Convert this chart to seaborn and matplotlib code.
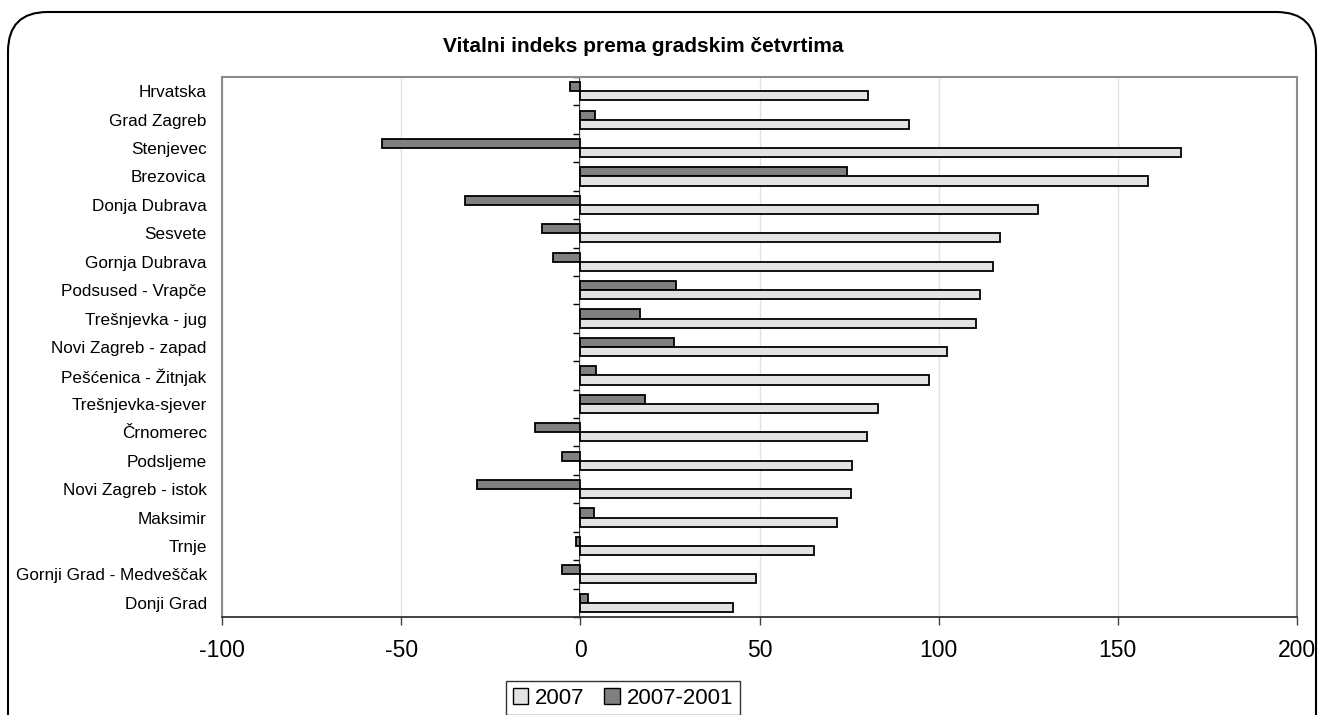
import matplotlib
matplotlib.use("Agg")
import matplotlib.pyplot as plt
from matplotlib.patches import FancyBboxPatch, Patch
import seaborn as sns
import pandas as pd

categories = ["Hrvatska", "Grad Zagreb", "Stenjevec", "Brezovica", "Donja Dubrava",
              "Sesvete", "Gornja Dubrava", "Podsused - Vrapče", "Trešnjevka - jug",
              "Novi Zagreb - zapad", "Pešćenica - Žitnjak", "Trešnjevka-sjever",
              "Črnomerec", "Podsljeme", "Novi Zagreb - istok", "Maksimir", "Trnje",
              "Gornji Grad - Medveščak", "Donji Grad"]
values_2007 = [80.2, 91.6, 167.6, 158.3, 127.8, 117.2, 115.3, 111.6, 110.5, 102.4,
               97.4, 83.2, 80.1, 75.9, 75.4, 71.7, 65.3, 49.1, 42.7]
values_diff = [-2.8, 4.2, -55.3, 74.3, -32.1, -10.6, -7.5, 26.8, 16.7, 26.2,
               4.5, 18.1, -12.6, -5.2, -28.9, 3.7, -1.2, -5.2, 2.2]
series_names = ["2007", "2007-2001"]
x_ticks = [-100, -50, 0, 50, 100, 150, 200]

df = pd.DataFrame({
    "category": categories * 2,
    "value": values_diff + values_2007,
    "series": [series_names[1]] * len(categories) + [series_names[0]] * len(categories),
})

sns.set_theme(style="white")
plt.rcParams["font.family"] = ["Liberation Sans", "DejaVu Sans"]
plt.rcParams["text.color"] = "black"
plt.rcParams["xtick.color"] = "black"
plt.rcParams["ytick.color"] = "black"
plt.rcParams["axes.labelcolor"] = "black"

colors = {"2007": "#E3E3E3", "2007-2001": "#808080"}

fig = plt.figure(figsize=(13.22, 7.15), dpi=100)
ax = fig.add_axes([222 / 1322, 1 - 617 / 715, (1297 - 222) / 1322, (617 - 77) / 715])

sns.barplot(data=df, x="value", y="category", hue="series",
            hue_order=["2007-2001", "2007"], palette=colors, orient="h",
            width=0.64, edgecolor="black", linewidth=1.3, ax=ax, legend=False,
            saturation=1)

ax.set_xlim(-100, 200)
ax.set_ylim(len(categories) - 0.5, -0.5)
ax.set_xticks(x_ticks)
ax.set_xticklabels([str(t) for t in x_ticks], fontsize=16.5)
ax.set_xlabel("")
ax.set_ylabel("")
ax.tick_params(axis="y", length=0, pad=11, labelsize=12.3, labelcolor="black")
ax.tick_params(axis="x", direction="out", length=6, width=1, color="#404040",
               pad=10, bottom=True, labelcolor="black")
ax.xaxis.grid(True, color="#E3E3E3", linewidth=1)
ax.set_axisbelow(True)
for side in ["top", "left", "right"]:
    ax.spines[side].set_color("#8C8C8C")
    ax.spines[side].set_linewidth(1.5)
ax.spines["bottom"].set_color("#333333")
ax.spines["bottom"].set_linewidth(1.3)

# category axis at x = 0
sec = ax.secondary_yaxis((0 - (-100)) / 300)
sec.set_yticks([i - 0.5 for i in range(len(categories) + 1)])
sec.set_yticklabels([])
sec.tick_params(axis="y", direction="out", length=5, width=1, color="black")
sec.spines["left"].set_color("black")
sec.spines["left"].set_linewidth(1.3)

fig.text(643 / 1322, 1 - 47 / 715, "Vitalni indeks prema gradskim četvrtima",
         ha="center", va="center", fontsize=15, fontweight="bold", color="black")

handles = [Patch(facecolor=colors[s], edgecolor="black", linewidth=1) for s in series_names]
leg = fig.legend(handles, series_names, loc="upper center",
                 bbox_to_anchor=(623 / 1322, 1 - 681 / 715), ncol=2, fontsize=16,
                 frameon=True, fancybox=False, handlelength=0.7, handleheight=0.7,
                 handletextpad=0.3, columnspacing=0.9, borderpad=0.3,
                 borderaxespad=0)
leg.get_frame().set_edgecolor("black")
leg.get_frame().set_linewidth(1)

border = FancyBboxPatch((8 / 1322, 1 - 760 / 715), (1316 - 8) / 1322, (760 - 12) / 715,
                        boxstyle="round,pad=0,rounding_size=0.03",
                        transform=fig.transFigure, facecolor="none",
                        edgecolor="black", linewidth=1.5, mutation_aspect=1322 / 715)
fig.patches.append(border)

fig.savefig("out.png", dpi=100)
